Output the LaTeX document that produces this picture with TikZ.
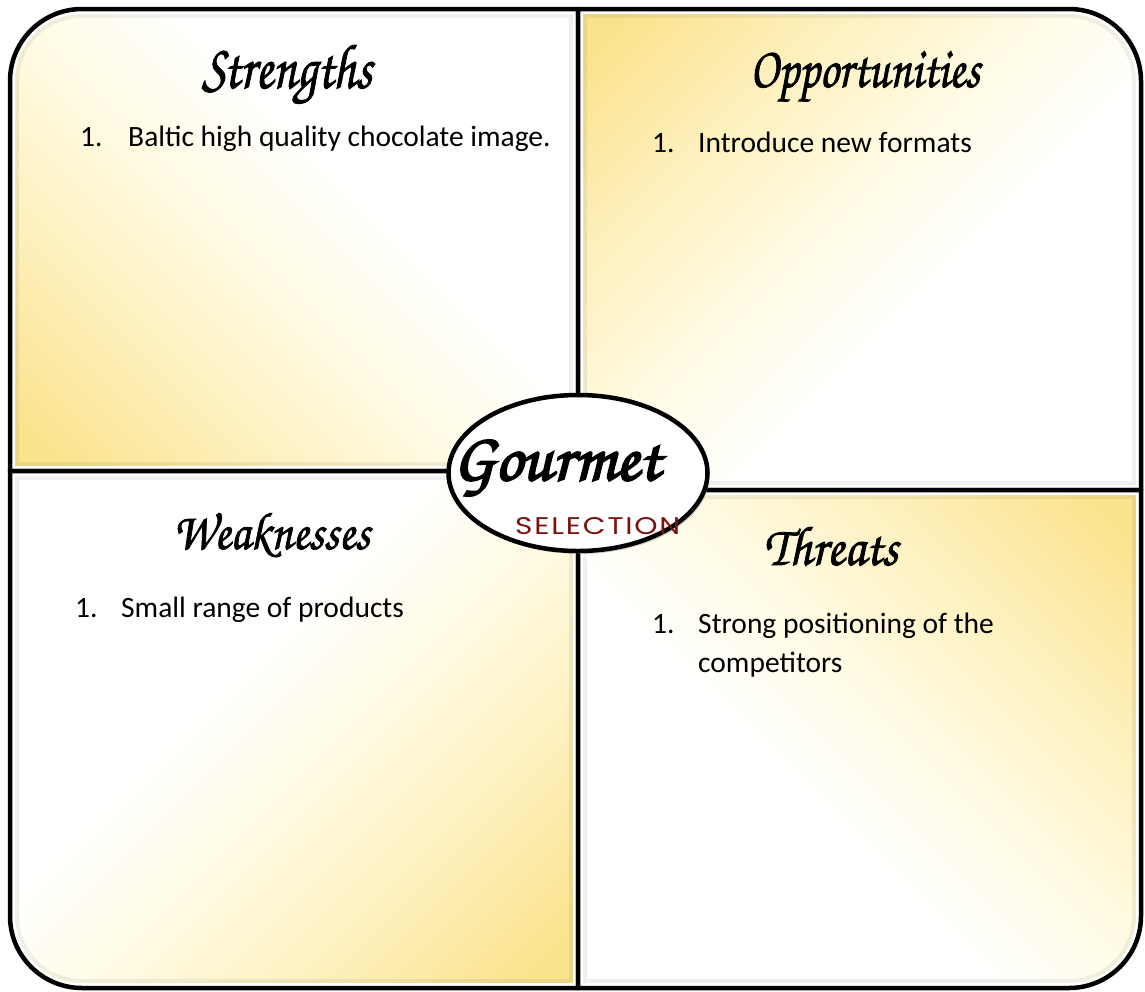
\documentclass[tikz,border=0pt]{standalone}
\usepackage{fontspec}
\setmainfont{Carlito}
\newfontfamily\hdfont[FakeBold=1.5]{TeX Gyre Chorus}
\newfontfamily\gourmetfont[FakeBold=3]{TeX Gyre Chorus}
\newfontfamily\selfont[LetterSpace=6]{Poppins}
\usetikzlibrary{shapes.geometric,shadows}
\definecolor{gold}{RGB}{251,226,140}
\definecolor{lightgold}{RGB}{253,240,188}
\definecolor{cream}{RGB}{255,251,226}
\definecolor{selred}{RGB}{122,18,18}
\pgfdeclareverticalshading{qshade}{100bp}{color(0bp)=(gold); color(18bp)=(gold); color(32bp)=(lightgold); color(45bp)=(cream); color(58bp)=(white); color(100bp)=(white)}
\tikzset{
  heading/.style={anchor=base, inner sep=0pt},
  item/.style={anchor=base west, inner sep=0pt, font=\fontsize{29.5}{35}\selectfont},
  border/.style={draw=black, line width=4.5pt, line join=round},
}
% resized script text: width, height, font, text
\newcommand{\shd}[4]{\resizebox{#1}{#2}{#3#4}}
\newcommand{\quadbox}[2]{%
  \begin{scope}
    \clip #1;
    \shade[shading=qshade, shading angle=#2] #1;
    \draw[black, opacity=0.06, line width=18pt] #1;
    \draw[white, line width=10pt] #1;
  \end{scope}
  \draw[border] #1;
}
\begin{document}
\begin{tikzpicture}[x=1pt,y=-1pt]
\useasboundingbox (0,0) rectangle (1145,991);
\fill[white] (0,0) rectangle (1145,991);
% quadrants
\quadbox{(578,9) -- (82,9) arc[start angle=-90,end angle=-180,radius=72] -- (10,471) -- (578,471) -- cycle}{-45}
\quadbox{(578,9) -- (1069,9) arc[start angle=-90,end angle=0,radius=72] -- (1141,490) -- (578,490) -- cycle}{225}
\quadbox{(10,471) -- (10,916) arc[start angle=180,end angle=90,radius=72] -- (578,988) -- (578,471) -- cycle}{45}
\quadbox{(1141,490) -- (1141,916) arc[start angle=0,end angle=90,radius=72] -- (578,988) -- (578,490) -- cycle}{135}
% centre logo
\node[ellipse, draw=black, line width=4.5pt, fill=white, minimum width=259pt, minimum height=156pt, inner sep=0pt,
      drop shadow={opacity=0.35, shadow xshift=2pt, shadow yshift=-3pt}] (logo) at (578,473) {};
\node[anchor=base west, inner sep=0pt] (gourmet) at (453,480) {\shd{207pt}{40pt}{\gourmetfont}{Gourmet}};
\node[anchor=base west, inner sep=0pt, text=selred] (sel) at (515,534) {\resizebox{165pt}{17pt}{\selfont SELECTION}};
% headings
\node[heading] (hS) at (287,88) {\shd{170pt}{43pt}{\hdfont}{Strengths}};
\node[heading] (hO) at (865,87) {\shd{230pt}{36pt}{\hdfont}{Opportunities}};
\node[heading] (hW) at (271.5,549) {\shd{197pt}{36pt}{\hdfont}{Weaknesses}};
\node[heading] (hT) at (831,565) {\shd{134pt}{38pt}{\hdfont}{Threats}};
% items
\node[item] (s1n) at (80,146) {1.};
\node[item] (s1) at (128,146) {Baltic high quality chocolate image.};
\node[item] (o1n) at (652,152) {1.};
\node[item] (o1) at (698,152) {Introduce new formats};
\node[item] (w1n) at (75,617) {1.};
\node[item] (w1) at (121,617) {Small range of products};
\node[item] (t1n) at (652,633) {1.};
\node[item] (t1) at (698,633) {Strong positioning of the};
\node[item] (t2) at (698,672) {competitors};
\end{tikzpicture}
\end{document}
